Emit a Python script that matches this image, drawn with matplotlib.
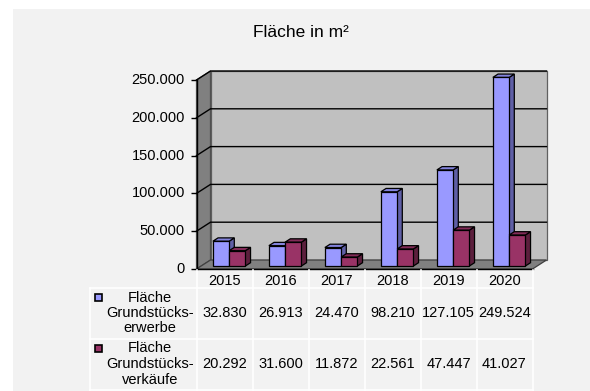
import matplotlib.pyplot as plt
from matplotlib.patches import Polygon, Rectangle
from matplotlib.lines import Line2D
from matplotlib import transforms

plt.rcParams['font.family'] = ['Liberation Sans', 'DejaVu Sans']

years = ['2015', '2016', '2017', '2018', '2019', '2020']
erwerbe = [32830, 26913, 24470, 98210, 127105, 249524]
verkaeufe = [20292, 31600, 11872, 22561, 47447, 41027]
series_names = ['Fläche\nGrundstücks-\nerwerbe', 'Fläche\nGrundstücks-\nverkäufe']
y_ticks = [0, 50000, 100000, 150000, 200000, 250000]

FS = 10.5
W, H = 590, 391
fig = plt.figure(figsize=(W / 100, H / 100), dpi=100)
fig.patch.set_facecolor('white')
fig.add_artist(Rectangle((13 / W, 0), 1, 1 - 9 / H, transform=fig.transFigure,
                         facecolor='#f2f2f2', edgecolor='none', zorder=0))


def fx(p):
    return p / W


def fy(p):
    return 1 - p / H


ax = fig.add_axes([fx(196.5), fy(269), 336 / W, 189 / H])
ax.set_xlim(-0.5, 5.5)
ax.set_ylim(0, 250000)
ax.axis('off')

DX, DY = 14, 9  # box depth in pixels


def sh(x, y, t):
    # move a data point back by a fraction t of the box depth
    px = ax.transData.transform((x, y))
    return ax.transData.inverted().transform((px[0] + DX * t, px[1] + DY * t))


def face(pts, fc, ec='black', lw=0.9, z=2):
    ax.add_patch(Polygon([sh(*p) for p in pts], closed=True, facecolor=fc,
                         edgecolor=ec, linewidth=lw, zorder=z, clip_on=False,
                         joinstyle='miter'))


top = y_ticks[-1]
# walls and floor
face([(-0.5, 0, 1), (5.5, 0, 1), (5.5, top, 1), (-0.5, top, 1)], '#c0c0c0', ec='#606060', z=1)
face([(-0.5, 0, 0), (-0.5, 0, 1), (-0.5, top, 1), (-0.5, top, 0)], '#808080', ec='#505050', z=1)
face([(-0.5, 0, 0), (5.5, 0, 0), (5.5, 0, 1), (-0.5, 0, 1)], '#808080', ec='#404040', z=1)

# gridlines on side wall and back wall
for v in y_ticks[1:]:
    pts = [sh(-0.5, v, 0), sh(-0.5, v, 1), sh(5.5, v, 1)]
    ax.plot([p[0] for p in pts], [p[1] for p in pts], color='black', lw=1,
            zorder=1.5, clip_on=False, solid_joinstyle='miter')

# y axis with ticks and labels
ax.plot([-0.5, -0.5], [0, top], color='black', lw=1, zorder=3, clip_on=False)
ax.plot([-0.5, 5.5], [0, 0], color='black', lw=1, zorder=3, clip_on=False)
lab_tr = transforms.offset_copy(ax.transData, fig, x=-11.5, y=0, units='dots')
for v in y_ticks:
    ax.plot([-0.5], [v], marker=0, markersize=4.3, color='black', mew=1,
            zorder=3, clip_on=False)
    ax.text(-0.5, v, f'{v:,}'.replace(',', '.'), transform=lab_tr,
            ha='right', va='center', fontsize=FS)

# bars
bw = 0.29
t0, t1 = 0.33, 0.70
styles = [(erwerbe, '#9999ff', '#8383dc', '#5f5fa6', -bw),
          (verkaeufe, '#993366', '#822b57', '#5c1f3d', 0.0)]
for i in range(len(years)):
    for vals, fc, tc, sc, off in styles:
        h = vals[i]
        x0 = i + off
        x1 = x0 + bw
        face([(x1, 0, t0), (x1, 0, t1), (x1, h, t1), (x1, h, t0)], sc, z=2)
        face([(x0, h, t0), (x1, h, t0), (x1, h, t1), (x0, h, t1)], tc, z=2)
        bx, by = sh(x0, 0, t0)
        ax.bar(bx, h, width=bw, bottom=by, align='edge', color=fc,
               edgecolor='black', linewidth=0.9, zorder=2, clip_on=False)

# data table below the plot
tab = transforms.blended_transform_factory(ax.transData, fig.transFigure)
right_px = 196.5 + 336
for b in range(len(years) + 1):
    fig.add_artist(Line2D([b - 0.5, b - 0.5], [fy(270), fy(391)], transform=tab,
                          color='white', lw=1.2))
fig.add_artist(Line2D([fx(90), fx(90)], [fy(288), fy(391)], transform=fig.transFigure,
                      color='white', lw=1.2))
for yp in [288, 339, 390]:
    fig.add_artist(Line2D([fx(90), fx(right_px)], [fy(yp), fy(yp)],
                          transform=fig.transFigure, color='white', lw=1.2))

for i, yr in enumerate(years):
    fig.text(i, fy(280.7), yr, transform=tab, ha='center', va='center', fontsize=FS)

rows = [(erwerbe, '#9999ff', 313), (verkaeufe, '#993366', 364)]
for (vals, fc, yc), name in zip(rows, series_names):
    fig.add_artist(Rectangle((fx(95), fy(yc - 12)), 7 / W, 7 / H,
                             transform=fig.transFigure, facecolor=fc,
                             edgecolor='black', linewidth=1.2))
    for k, line in enumerate(name.split('\n')):
        fig.text(fx(150), fy(yc + (k - 1) * 15.5), line, ha='center',
                 va='center', fontsize=FS)
    for i, v in enumerate(vals):
        fig.text(i, fy(yc), f'{v:,}'.replace(',', '.'), transform=tab,
                 ha='center', va='center', fontsize=FS)

fig.text(fx(300.7), fy(32.7), 'Fläche in m²', ha='center', va='center', fontsize=12.5)

fig.savefig('out.png', dpi=100)
